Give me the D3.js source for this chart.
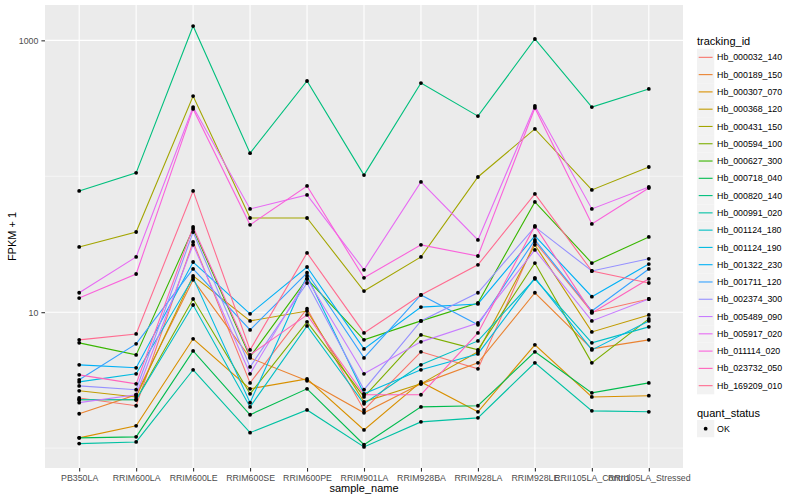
<!DOCTYPE html>
<html>
<head>
<meta charset="utf-8">
<style>
  body { margin: 0; background: #fff; }
  text { font-family: "Liberation Sans", Arial, sans-serif; }
</style>
</head>
<body>
<script src="https://cdnjs.cloudflare.com/ajax/libs/d3/7.8.5/d3.min.js"></script>
<script>
// x categories
var samples = ["PB350LA", "RRIM600LA", "RRIM600LE", "RRIM600SE", "RRIM600PE", "RRIM901LA",
               "RRIM928BA", "RRIM928LA", "RRIM928LE", "RRII105LA_Control", "RRII105LA_Stressed"];

var trackingIds = ["Hb_000032_140", "Hb_000189_150", "Hb_000307_070", "Hb_000368_120", "Hb_000431_150",
                   "Hb_000594_100", "Hb_000627_300", "Hb_000718_040", "Hb_000820_140", "Hb_000991_020",
                   "Hb_001124_180", "Hb_001124_190", "Hb_001322_230", "Hb_001711_120", "Hb_002374_300",
                   "Hb_005489_090", "Hb_005917_020", "Hb_011114_020", "Hb_023732_050", "Hb_169209_010"];

// FPKM + 1, one value per sample
var hb000032_140 = [2.34, 2.05, 32.9, 3.02, 10.6, 1.91, 5.11, 3.83, 32.9, 10.0, 12.5];
var hb000189_150 = [1.79, 2.47, 17.3, 4.61, 3.13, 1.82, 2.97, 4.24, 13.9, 5.37, 6.26];
var hb000307_070 = [1.19, 1.46, 6.37, 2.73, 3.23, 1.36, 3.07, 1.85, 5.75, 2.38, 2.43];
var hb000368_120 = [2.64, 2.38, 18.5, 8.63, 10.2, 2.19, 2.97, 5.11, 31.3, 7.16, 9.55];
var hb000431_150 = [30.2, 38.9, 389, 49.3, 49.3, 14.3, 25.5, 98.8, 223, 79.3, 117];
var hb000594_100 = [2.27, 2.27, 12.5, 2.51, 8.49, 2.38, 6.81, 5.28, 23.0, 4.24, 8.93];
var hb000627_300 = [5.95, 4.85, 41.0, 4.69, 17.6, 6.26, 8.63, 11.7, 64.7, 23.0, 35.8];
var hb000718_040 = [1.19, 1.21, 5.19, 1.76, 2.73, 1.06, 2.01, 2.05, 5.11, 2.55, 3.02];
var hb000820_140 = [78, 106, 1274, 148, 502, 102, 485, 277, 1023, 323, 439];
var hb000991_020 = [1.08, 1.11, 3.77, 1.30, 1.91, 1.02, 1.56, 1.67, 4.24, 1.88, 1.85];
var hb001124_180 = [2.27, 2.27, 11.3, 2.01, 7.93, 2.12, 4.10, 6.15, 17.6, 5.95, 7.80];
var hb001124_190 = [3.07, 3.52, 17.9, 2.16, 18.5, 2.51, 3.77, 4.93, 17.9, 5.28, 8.63];
var hb001322_230 = [4.10, 3.90, 23.4, 9.72, 21.5, 5.37, 10.9, 11.5, 36.4, 13.0, 22.6];
var hb001711_120 = [3.18, 5.85, 20.8, 7.41, 19.5, 4.61, 13.4, 8.07, 34.0, 10.2, 20.8];
var hb002374_300 = [2.87, 2.69, 38.9, 3.96, 16.4, 2.69, 8.63, 13.9, 42.4, 20.1, 24.7];
var hb005489_090 = [2.16, 2.47, 31.3, 3.52, 17.6, 3.52, 6.05, 8.34, 28.7, 8.63, 12.5];
var hb005917_020 = [13.9, 25.5, 323, 57.5, 72.9, 20.5, 90.8, 34.0, 329, 57.5, 83.4];
var hb011114_020 = [12.7, 19.1, 313, 43.9, 84.9, 17.9, 31.3, 25.9, 318, 44.6, 82.0];
var hb023732_050 = [3.46, 2.97, 42.4, 4.85, 9.55, 2.47, 2.47, 7.04, 43.1, 9.88, 17.6];
var hb169209_010 = [6.26, 6.92, 78, 5.28, 27.3, 7.04, 13.4, 22.3, 74.1, 20.1, 16.4];

var yMajor = [10, 1000];
var yMinor = [1, 100];

var values = [hb000032_140, hb000189_150, hb000307_070, hb000368_120, hb000431_150,
              hb000594_100, hb000627_300, hb000718_040, hb000820_140, hb000991_020,
              hb001124_180, hb001124_190, hb001322_230, hb001711_120, hb002374_300,
              hb005489_090, hb005917_020, hb011114_020, hb023732_050, hb169209_010];

// ggplot default hue palette for 20 levels
var colours = ["#F8766D", "#EA8331", "#D89000", "#C09B00", "#A3A500", "#7CAE00", "#39B600",
               "#00BB4E", "#00BF7D", "#00C1A3", "#00BFC4", "#00BAE0", "#00B0F6", "#35A2FF",
               "#9590FF", "#C77CFF", "#E76BF3", "#FA62DB", "#FF62BC", "#FF6C90"];

var series = trackingIds.map(function(id, i) {
  return { id: id, colour: colours[i],
           points: samples.map(function(s, j) { return { sample: s, v: values[i][j] }; }) };
});

var W = 800, H = 500;
var panel = { left: 45, right: 683, top: 5, bottom: 468 };

var svg = d3.select("body").append("svg")
    .attr("width", W).attr("height", H);
svg.append("rect").attr("width", W).attr("height", H).style("fill", "white");

var x = d3.scalePoint()
    .domain(samples)
    .range([panel.left, panel.right])
    .padding(0.6);

// log domain with 5% expansion like ggplot
var all = [].concat.apply([], values);
var lo = Math.log10(d3.min(all)), hi = Math.log10(d3.max(all));
var pad = (hi - lo) * 0.05;
var y = d3.scaleLog()
    .domain([Math.pow(10, lo - pad), Math.pow(10, hi + pad)])
    .range([panel.bottom, panel.top]);

// panel background
svg.append("rect")
   .attr("x", panel.left).attr("y", panel.top)
   .attr("width", panel.right - panel.left)
   .attr("height", panel.bottom - panel.top)
   .style("fill", "#EBEBEB");

// gridlines
svg.selectAll("line.minor").data(yMinor).enter().append("line")
   .attr("x1", panel.left).attr("x2", panel.right)
   .attr("y1", function(d) { return y(d); }).attr("y2", function(d) { return y(d); })
   .style("stroke", "white").style("stroke-width", 0.55);
svg.selectAll("line.major").data(yMajor).enter().append("line")
   .attr("x1", panel.left).attr("x2", panel.right)
   .attr("y1", function(d) { return y(d); }).attr("y2", function(d) { return y(d); })
   .style("stroke", "white").style("stroke-width", 1.1);
svg.selectAll("line.vgrid").data(samples).enter().append("line")
   .attr("y1", panel.top).attr("y2", panel.bottom)
   .attr("x1", function(d) { return x(d); }).attr("x2", function(d) { return x(d); })
   .style("stroke", "white").style("stroke-width", 1.1);

// lines
var line = d3.line()
    .x(function(d) { return x(d.sample); })
    .y(function(d) { return y(d.v); });

svg.selectAll("path.series").data(series).enter().append("path")
   .attr("d", function(d) { return line(d.points); })
   .style("fill", "none")
   .style("stroke", function(d) { return d.colour; })
   .style("stroke-width", 1.1);

// points
series.forEach(function(s) {
  svg.selectAll(null).data(s.points).enter().append("circle")
     .attr("cx", function(d) { return x(d.sample); })
     .attr("cy", function(d) { return y(d.v); })
     .attr("r", 1.9)
     .style("fill", "black");
});

// axes
var xAxis = svg.append("g")
   .attr("transform", "translate(0," + panel.bottom + ")")
   .call(d3.axisBottom(x).tickSize(3.6).tickPadding(3));
var yAxis = svg.append("g")
   .attr("transform", "translate(" + panel.left + ",0)")
   .call(d3.axisLeft(y).tickValues(yMajor).tickFormat(d3.format("d")).tickSize(3.6).tickPadding(3));
[xAxis, yAxis].forEach(function(g) {
  g.select(".domain").remove();
  g.selectAll("line").style("stroke", "#333333").style("stroke-width", 1.1);
  g.selectAll("text").style("fill", "#4D4D4D").style("font-size", "8.8px")
   .style("font-family", "Liberation Sans, Arial, sans-serif");
});

// axis titles
svg.append("text")
   .attr("x", (panel.left + panel.right) / 2).attr("y", 492)
   .style("text-anchor", "middle").style("font-size", "11px")
   .text("sample_name");
svg.append("text")
   .attr("transform", "translate(16," + (panel.top + panel.bottom) / 2 + ") rotate(-90)")
   .style("text-anchor", "middle").style("font-size", "11px")
   .text("FPKM + 1");

// legend: tracking_id
var lx = 697, keyH = 17.28, ky0 = 48.7;
svg.append("text").attr("x", lx).attr("y", 44.5)
   .style("font-size", "11px").text("tracking_id");

var keys = svg.selectAll("g.key").data(series).enter().append("g")
   .attr("transform", function(d, i) { return "translate(" + lx + "," + (ky0 + i * keyH) + ")"; });
keys.append("rect").attr("width", keyH).attr("height", keyH).style("fill", "#F2F2F2");
keys.append("line")
   .attr("x1", 1.7).attr("x2", keyH - 1.7)
   .attr("y1", keyH / 2).attr("y2", keyH / 2)
   .style("stroke", function(d) { return d.colour; })
   .style("stroke-width", 1.1);
keys.append("text")
   .attr("x", keyH + 2.8).attr("y", keyH / 2 + 3.1)
   .style("font-size", "8.8px").text(function(d) { return d.id; });

// legend: quant_status
svg.append("text").attr("x", lx).attr("y", 416.5)
   .style("font-size", "11px").text("quant_status");
var ok = svg.append("g").attr("transform", "translate(" + lx + ",420)");
ok.append("rect").attr("width", keyH).attr("height", keyH).style("fill", "#F2F2F2");
ok.append("circle").attr("cx", keyH / 2).attr("cy", keyH / 2).attr("r", 1.9).style("fill", "black");
ok.append("text").attr("x", keyH + 2.8).attr("y", keyH / 2 + 3.1)
  .style("font-size", "8.8px").text("OK");
</script>
</body>
</html>
